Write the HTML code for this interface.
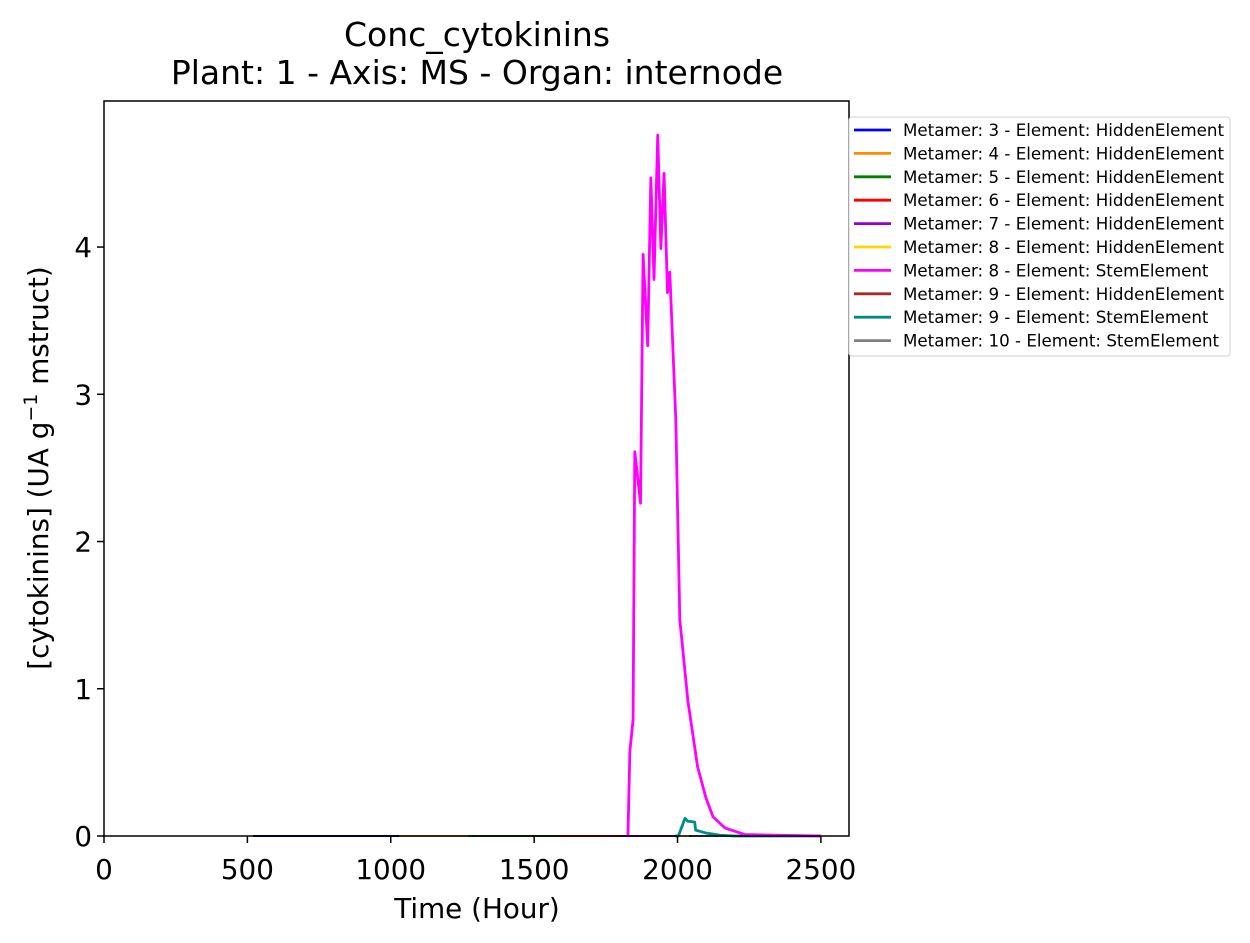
<!DOCTYPE html>
<html><head><meta charset="utf-8"><style>
body{margin:0;background:#fff;}
svg{display:block;font-family:"DejaVu Sans","Liberation Sans",sans-serif;}
</style></head><body>
<svg id="chart" width="1250" height="943" viewBox="0 0 1250 943">
<rect width="1250" height="943" fill="#fff"/>
<text x="477" y="46" style="font-size:33px" text-anchor="middle">Conc_cytokinins</text>
<text x="477" y="84" style="font-size:33px" text-anchor="middle">Plant: 1 - Axis: MS - Organ: internode</text>
<g id="plot"></g>
<rect x="104" y="101" width="745" height="735" fill="none" stroke="#000" stroke-width="1.5"/>
<g id="axes"></g>
<text x="477" y="918" style="font-size:27.8px" text-anchor="middle">Time (Hour)</text>
<text transform="translate(48,468) rotate(-90)" style="font-size:27.8px" text-anchor="middle">[cytokinins] (UA g<tspan dy="-11" style="font-size:19px">−1</tspan><tspan dy="11"> mstruct)</tspan></text>
<g id="legend"></g>
</svg>
<script>
const xTicks=[0,500,1000,1500,2000,2500];
const yTicks=[0,1,2,3,4];
const stemHours=[1827,1834,1845,1851,1871,1880,1896,1907,1918,1931,1942,1953,1965,1973,1994,2008,2036,2070,2099,2124,2165,2235,2500];
const stemValues=[0,0.58,0.79,2.61,2.26,3.95,3.33,4.47,3.78,4.76,3.99,4.50,3.69,3.83,2.83,1.47,0.92,0.47,0.26,0.13,0.055,0.01,0];
const teal9Hours=[1990,2003,2026,2036,2060,2063,2100,2150,2200,2500];
const teal9Values=[0,0,0.12,0.10,0.095,0.04,0.02,0.005,0,0];
const seriesNames=["Metamer: 3 - Element: HiddenElement","Metamer: 4 - Element: HiddenElement","Metamer: 5 - Element: HiddenElement","Metamer: 6 - Element: HiddenElement","Metamer: 7 - Element: HiddenElement","Metamer: 8 - Element: HiddenElement","Metamer: 8 - Element: StemElement","Metamer: 9 - Element: HiddenElement","Metamer: 9 - Element: StemElement","Metamer: 10 - Element: StemElement"];
const seriesColors=["#0000ff","#ff8c00","#008000","#ff0000","#9400d3","#ffd700","#ff00ff","#a52a2a","#008b8b","#808080"];
const flatStarts=[520,1030,1270,1590,1800,2000,null,2040,null,2050];
const flatEnds=[1030,1270,1590,1800,2000,2100,null,2500,null,2500];

const NS="http://www.w3.org/2000/svg";
const X0=104,X1=849,XMAX=2598,Y0=836,YTOP=101,YMAX=4.992;
const sx=v=>X0+v/XMAX*(X1-X0);
const sy=v=>Y0-v/YMAX*(Y0-YTOP);
function mk(tag,attrs,parent){const e=document.createElementNS(NS,tag);for(const k in attrs)e.setAttribute(k,attrs[k]);parent.appendChild(e);return e;}
const plot=document.getElementById('plot');
for(let i=0;i<seriesNames.length;i++){
  if(flatStarts[i]===null)continue;
  const l=mk('line',{x1:sx(flatStarts[i]),x2:sx(flatEnds[i]),y1:sy(0),y2:sy(0),stroke:seriesColors[i],'stroke-width':2},plot);
  
  
}
function poly(h,v,c,name){
  const p=mk('polyline',{points:h.map((t,i)=>sx(t)+','+sy(v[i])).join(' '),fill:'none',stroke:c,'stroke-width':2.8,'stroke-linejoin':'round'},plot);
  
  
}
poly(teal9Hours,teal9Values,seriesColors[8],'series-line-metamer9-stem');
poly(stemHours,stemValues,seriesColors[6],'series-line-metamer8-stem');
const axes=document.getElementById('axes');
xTicks.forEach(t=>{
  const l=mk('line',{x1:sx(t),x2:sx(t),y1:Y0,y2:Y0+7,stroke:'#000','stroke-width':1.5},axes);
  
  
  const tx=mk('text',{x:sx(t),y:879,style:'font-size:27.8px','text-anchor':'middle'},axes);
  tx.textContent=t;
  
  
});
yTicks.forEach(t=>{
  const l=mk('line',{x1:X0-7,x2:X0,y1:sy(t),y2:sy(t),stroke:'#000','stroke-width':1.5},axes);
  
  
  const tx=mk('text',{x:X0-12,y:sy(t)+10,style:'font-size:27.8px','text-anchor':'end'},axes);
  tx.textContent=t;
  
  
});
const lg=document.getElementById('legend');
const box=mk('rect',{x:849,y:117,width:381,height:239,rx:3,fill:'#fff',stroke:'#d0d0d0','stroke-width':1},lg);


seriesNames.forEach((n,i)=>{
  const y=130+i*23.4;
  const l=mk('line',{x1:854,x2:891,y1:y,y2:y,stroke:seriesColors[i],'stroke-width':2.8},lg);
  
  
  const t=mk('text',{x:903,y:y+6,style:'font-size:16.7px'},lg);
  t.textContent=n;
  
  
});
</script>
</body></html>
